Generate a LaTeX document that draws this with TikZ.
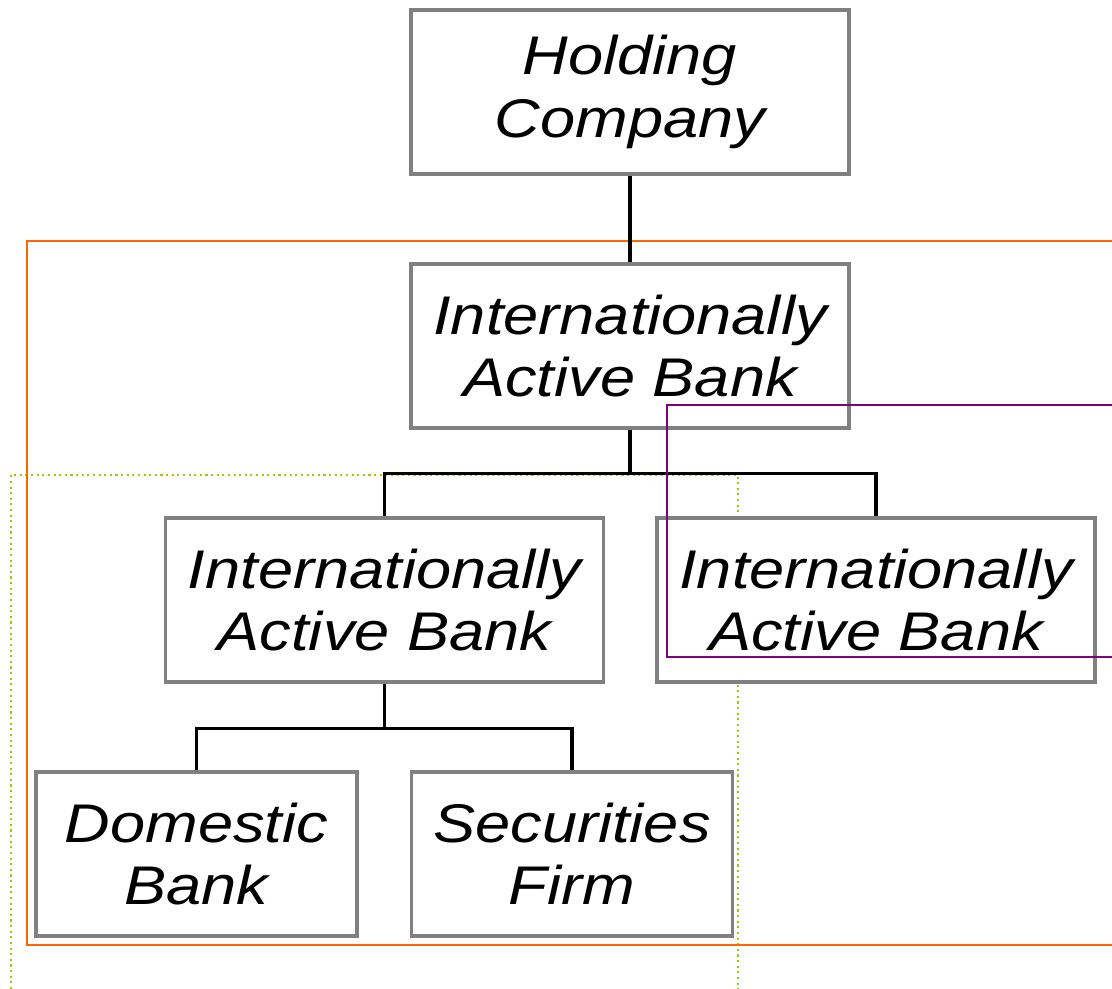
\documentclass[tikz,border=0pt]{standalone}
\usepackage{fontspec}
\setmainfont{Liberation Sans}[FakeStretch=1.16]
\definecolor{boxgray}{RGB}{128,128,128}
\definecolor{frameorange}{RGB}{255,102,0}
\definecolor{framepurple}{RGB}{128,0,128}
\definecolor{framegreen}{RGB}{153,204,0}
\tikzset{
  entity/.style={draw=boxgray, fill=white, line width=2pt, minimum height=3.28cm,
    align=center, inner sep=0pt, font=\itshape\fontsize{31}{35.5}\selectfont},
  wide/.style={entity, minimum width=8.76cm},
  narrow/.style={entity, minimum width=6.42cm},
  link/.style={line width=1.8pt}
}
\begin{document}
\begin{tikzpicture}[x=0.02cm, y=-0.02cm]
                    \useasboundingbox (0, 0) rectangle (1112, 989);
                    % frames behind the boxes
                    \draw[framegreen, line width=1.2pt, dotted] (11, 989) -- (11, 475) -- (738, 475) -- (738, 989);
                    \draw[frameorange, line width=1.3pt] (1112, 241) -- (27, 241) -- (27, 945) -- (1112, 945);
                    % boxes
                    \node[wide] (hold) at (630, 92) {Holding\\Company};
                    \node[wide] (iab) at (630, 346) {Internationally\\Active Bank};
                    \node[wide] (iabl) at (384.5, 600) {Internationally\\Active Bank};
                    \node[wide] (iabr) at (876, 600) {Internationally\\Active Bank};
                    \node[narrow] (dom) at (196.5, 854) {Domestic\\Bank};
                    \node[narrow] (sec) at (572, 854) {Securities\\Firm};
                    % ownership lines
                    \draw[link] (hold) -- (iab);
                    \draw[link] (iab.south) -- ++(0, 44) -| (iabl.north);
                    \draw[link] (iab.south) -- ++(0, 44) -| (iabr.north);
                    \draw[link] (iabl.south) -- ++(0, 45) -| (dom.north);
                    \draw[link] (iabl.south) -- ++(0, 45) -| (sec.north);
                    % frame over the boxes
                    \draw[framepurple, line width=1.3pt] (1112, 405) -- (667, 405) -- (667, 657) -- (1112, 657);
                \end{tikzpicture}
\end{document}
